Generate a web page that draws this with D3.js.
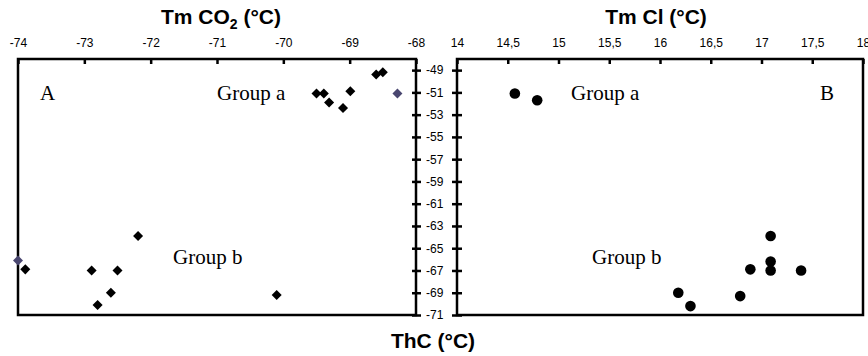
<!DOCTYPE html>
<html>
<head>
<meta charset="utf-8">
<script src="https://cdn.jsdelivr.net/npm/d3@7"></script>
<style>
  body { margin: 0; background: #fff; }
  svg { display: block; }
</style>
</head>
<body>
<div id="chart"></div>
<script>
// Tm CO2 (left panel, diamonds)
const co2Points = [
  { x: -69.50, y: -51.1 }, { x: -69.39, y: -51.1 }, { x: -69.31, y: -51.9 },
  { x: -69.10, y: -52.4 }, { x: -68.99, y: -50.9 }, { x: -68.60, y: -49.4 },
  { x: -68.50, y: -49.2 }, { x: -68.28, y: -51.1, alt: true },
  { x: -74.00, y: -66.1, alt: true }, { x: -73.89, y: -66.9 }, { x: -72.89, y: -67.0 },
  { x: -72.50, y: -67.0 }, { x: -72.19, y: -63.9 }, { x: -72.60, y: -69.0 },
  { x: -72.80, y: -70.1 }, { x: -70.10, y: -69.2 }
];
// Tm Cl (right panel, circles)
const clPoints = [
  { x: 14.57, y: -51.1 }, { x: 14.79, y: -51.7 },
  { x: 17.09, y: -63.9 }, { x: 17.09, y: -66.2 }, { x: 17.09, y: -67.0 },
  { x: 16.89, y: -66.9 }, { x: 17.39, y: -67.0 }, { x: 16.18, y: -69.0 },
  { x: 16.30, y: -70.2 }, { x: 16.79, y: -69.3 }
];
const co2Ticks = [-74, -73, -72, -71, -70, -69, -68];
const clTicks = [14, 14.5, 15, 15.5, 16, 16.5, 17, 17.5, 18];
const thcTicks = [-49, -51, -53, -55, -57, -59, -61, -63, -65, -67, -69, -71];

const width = 868, height = 356;
const plotTop = 59, plotBottom = 315;
const lw = 2.5;

const locale = d3.formatLocale({ decimal: ",", thousands: ".", grouping: [3], currency: ["", ""], minus: "-" });
const fmt = locale.format("~g");

const svg = d3.select("#chart").append("svg")
    .attr("width", width)
    .attr("height", height)
    .style("font-family", "'Liberation Sans', Arial, sans-serif");

const y = d3.scaleLinear().domain([-71, -48]).range([plotBottom, plotTop]);
const xL = d3.scaleLinear().domain([-74, -68]).range([18, 416]);
const xR = d3.scaleLinear().domain([14, 18]).range([457, 863]);

// frames
[xL, xR].forEach(x => {
    svg.append("rect")
        .attr("x", x.range()[0]).attr("y", plotTop)
        .attr("width", x.range()[1] - x.range()[0]).attr("height", plotBottom - plotTop)
        .attr("fill", "none").attr("stroke", "#000").attr("stroke-width", lw);
});

// top axes
function topAxis(x, ticks) {
    const g = svg.append("g")
        .attr("transform", `translate(0,${plotTop})`)
        .call(d3.axisTop(x).tickValues(ticks).tickFormat(fmt)
            .tickSizeInner(-5).tickSizeOuter(0).tickPadding(12));
    g.select(".domain").remove();
    g.selectAll(".tick line").attr("stroke", "#000").attr("stroke-width", lw);
    g.selectAll(".tick text").attr("font-size", "12px").attr("fill", "#000")
        .attr("font-family", "'Liberation Sans', Arial, sans-serif");
}
topAxis(xL, co2Ticks);
topAxis(xR, clTicks);

// shared y axis between panels
const gy = svg.append("g")
    .attr("transform", "translate(412,0)")
    .call(d3.axisRight(y).tickValues(thcTicks).tickFormat(fmt).tickSize(9).tickPadding(5));
gy.select(".domain").remove();
gy.selectAll(".tick line").attr("stroke-width", lw);
gy.selectAll(".tick text").attr("font-size", "12px")
    .attr("font-family", "'Liberation Sans', Arial, sans-serif");

const gy2 = svg.append("g")
    .attr("transform", "translate(462,0)")
    .call(d3.axisLeft(y).tickValues(thcTicks).tickFormat("").tickSize(10));
gy2.select(".domain").remove();
gy2.selectAll(".tick line").attr("stroke-width", lw);

// markers
svg.append("g").selectAll("path")
    .data(co2Points)
    .join("path")
    .attr("d", d3.symbol(d3.symbolDiamond2, 64))
    .attr("transform", d => `translate(${xL(d.x)},${y(d.y)})`)
    .attr("fill", d => d.alt ? "#4a4770" : "#000");

svg.append("g").selectAll("circle")
    .data(clPoints)
    .join("circle")
    .attr("cx", d => xR(d.x))
    .attr("cy", d => y(d.y))
    .attr("r", 5.3)
    .attr("fill", "#000");

// titles
const t1 = svg.append("text").attr("x", 221).attr("y", 24).attr("text-anchor", "middle")
    .attr("font-size", "21px").attr("font-weight", "bold");
t1.append("tspan").text("Tm CO");
t1.append("tspan").attr("font-size", "14px").attr("dy", 5).text("2");
t1.append("tspan").attr("dy", -5).text(" (°C)");

svg.append("text").attr("x", 656).attr("y", 24).attr("text-anchor", "middle")
    .attr("font-size", "21px").attr("font-weight", "bold").text("Tm Cl (°C)");

svg.append("text").attr("x", 433).attr("y", 348).attr("text-anchor", "middle")
    .attr("font-size", "21px").attr("font-weight", "bold").text("ThC (°C)");

// annotations
const notes = [
    { t: "A", x: 40, y: 100 }, { t: "Group a", x: 217, y: 100 },
    { t: "Group b", x: 173, y: 264 },
    { t: "Group a", x: 571, y: 100 }, { t: "B", x: 820, y: 100 },
    { t: "Group b", x: 592, y: 264 }
];
svg.append("g").selectAll("text")
    .data(notes)
    .join("text")
    .attr("x", d => d.x).attr("y", d => d.y)
    .attr("font-family", "'Liberation Serif', 'Times New Roman', serif")
    .attr("font-size", "21px")
    .text(d => d.t);
</script>
</body>
</html>
